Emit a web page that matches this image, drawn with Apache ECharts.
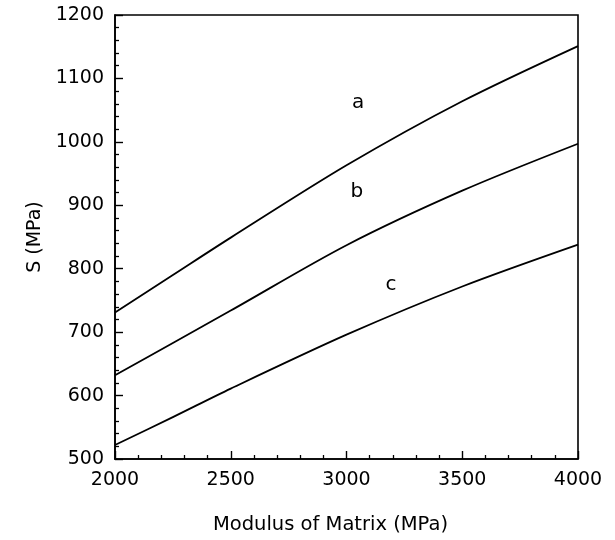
<!DOCTYPE html>
<html>
<head>
<meta charset="utf-8">
<script src="https://cdn.jsdelivr.net/npm/echarts@6/dist/echarts.min.js"></script>
<style>
html,body{margin:0;padding:0;background:#fff;}
#c{width:615px;height:540px;}
</style>
</head>
<body>
<div id="c"></div>
<script>
const xModulus = [2000, 2250, 2500, 3000, 3500, 4000];
const curveA = [731, 790, 849, 963, 1064, 1151];
const curveB = [632, 683, 734, 837, 923, 997];
const curveC = [522, 566, 611, 696, 772, 838];
const curveLabels = [
  {text: 'a', x: 3050, y: 1062},
  {text: 'b', x: 3045, y: 922},
  {text: 'c', x: 3192, y: 775}
];
const xTitle = 'Modulus of Matrix (MPa)';
const yTitle = 'S (MPa)';

const font = '"DejaVu Sans", "Liberation Sans", Arial, sans-serif';
function pairs(ys){ return xModulus.map((x,i)=>[x, ys[i]]); }
function lineSeries(ys){
  return {type:'line', data:pairs(ys), smooth:0.3, symbol:'none',
    lineStyle:{color:'#000', width:1.8}, silent:true};
}
const chart = echarts.init(document.getElementById('c'), null, {renderer:'canvas'});
chart.setOption({
  backgroundColor:'#fff',
  animation:false,
  grid:{left:115, right:37, top:15, bottom:80, show:true, borderColor:'#000', borderWidth:1.6, backgroundColor:'transparent'},
  xAxis:{type:'value', min:2000, max:4000, interval:500,
    name:xTitle, nameLocation:'middle', nameGap:56,
    nameTextStyle:{fontFamily:font, fontSize:19.5, color:'#000', padding:[0, 32, 0, 0]},
    axisLine:{lineStyle:{color:'#000', width:1.6}},
    axisTick:{inside:true, length:8, lineStyle:{color:'#000', width:1.4}},
    minorTick:{show:true, splitNumber:5, length:4, lineStyle:{color:'#000', width:1.3}},
    splitLine:{show:false},
    axisLabel:{fontFamily:font, fontSize:19, color:'#000', margin:12, formatter:v=>String(v)}
  },
  yAxis:{type:'value', min:500, max:1200, interval:100,
    name:yTitle, nameLocation:'middle', nameGap:67,
    nameTextStyle:{fontFamily:font, fontSize:19, color:'#000'},
    axisLine:{lineStyle:{color:'#000', width:1.6}},
    axisTick:{inside:true, length:8, lineStyle:{color:'#000', width:1.4}},
    minorTick:{show:true, splitNumber:5, length:4, lineStyle:{color:'#000', width:1.3}},
    splitLine:{show:false},
    axisLabel:{fontFamily:font, fontSize:19, color:'#000', margin:11, formatter:v=>String(v)}
  },
  series:[
    lineSeries(curveA), lineSeries(curveB), lineSeries(curveC),
    {type:'scatter', symbolSize:0, silent:true, itemStyle:{opacity:1, color:'#000'},
      data:curveLabels.map(l=>({value:[l.x,l.y], name:l.text})),
      label:{show:true, position:'inside', formatter:p=>p.name, opacity:1,
        fontFamily:font, fontSize:20, color:'#000'}}
  ]
});
</script>
</body>
</html>
